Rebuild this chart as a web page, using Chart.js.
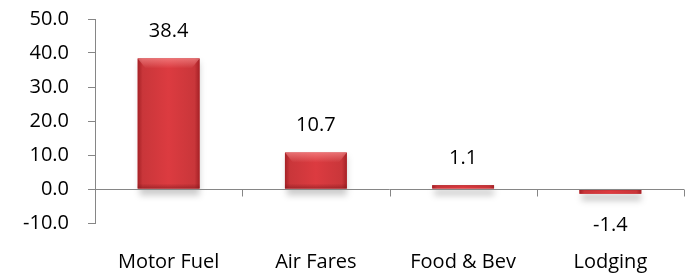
<!DOCTYPE html>
<html>
<head>
<meta charset="utf-8">
<script src="https://cdn.jsdelivr.net/npm/chart.js@4/dist/chart.umd.min.js"></script>
<style>
html,body{margin:0;padding:0;background:#fff;}
#wrap{width:692px;height:279px;position:relative;}
</style>
</head>
<body>
<div id="wrap"><canvas id="c" width="692" height="279"></canvas></div>
<script>
const categories = ["Motor Fuel", "Air Fares", "Food & Bev", "Lodging"];
const values = [38.4, 10.7, 1.1, -1.4];
const yTicks = [-10, 0, 10, 20, 30, 40, 50];

const FONT = '"Open Sans", "Liberation Sans", sans-serif';
const FSIZE = 20;
const AXIS = '#868686';

const barStyle = {
  id: 'barStyle',
  beforeDatasetsDraw(chart) {
    const ctx = chart.ctx;
    const meta = chart.getDatasetMeta(0);
    ctx.save();
    meta.data.forEach(b => {
      const top = Math.min(b.y, b.base), bot = Math.max(b.y, b.base);
      ctx.fillStyle = 'rgba(0,0,0,0.2)';
      ctx.filter = 'blur(3px)';
      ctx.fillRect(b.x - b.width/2 + 2, top + 4, b.width - 2, bot - top + 3);
    });
    ctx.restore();
  },
  afterDatasetsDraw(chart) {
    const ctx = chart.ctx;
    const meta = chart.getDatasetMeta(0);
    ctx.save();
    meta.data.forEach((b, i) => {
      const l = b.x - b.width/2, r = b.x + b.width/2;
      const top = Math.min(b.y, b.base), bot = Math.max(b.y, b.base);
      const h = bot - top;
      const g = ctx.createLinearGradient(l, 0, r, 0);
      g.addColorStop(0, '#a52126');
      g.addColorStop(0.08, '#c9363a');
      g.addColorStop(0.5, '#dc3b40');
      g.addColorStop(0.92, '#c9363a');
      g.addColorStop(1, '#a52126');
      ctx.fillStyle = g;
      ctx.fillRect(l, top, b.width, h);
      if (h > 12) {
        const tg = ctx.createLinearGradient(0, top, 0, top + 10);
        tg.addColorStop(0, 'rgba(255,160,160,0.55)');
        tg.addColorStop(1, 'rgba(255,160,160,0)');
        ctx.fillStyle = tg;
        ctx.beginPath();
        ctx.moveTo(l, top); ctx.lineTo(r, top); ctx.lineTo(r - 8, top + 10); ctx.lineTo(l + 8, top + 10); ctx.closePath();
        ctx.fill();
        const bg = ctx.createLinearGradient(0, bot - 5, 0, bot);
        bg.addColorStop(0, 'rgba(120,20,25,0)');
        bg.addColorStop(1, 'rgba(120,20,25,0.5)');
        ctx.fillStyle = bg;
        ctx.fillRect(l, bot - 5, b.width, 5);
      } else {
        ctx.fillStyle = 'rgba(150,30,35,0.35)';
        ctx.fillRect(l, top, b.width, 1);
      }
    });
    ctx.restore();
  },
  afterDraw(chart) {
    const ctx = chart.ctx;
    const xs = chart.scales.x, ys = chart.scales.y;
    const y0 = Math.round(ys.getPixelForValue(0)) + 0.5;
    ctx.save();
    ctx.strokeStyle = AXIS;
    ctx.lineWidth = 1;
    ctx.beginPath();
    ctx.moveTo(chart.chartArea.left, y0);
    ctx.lineTo(chart.chartArea.right, y0);
    const step = (xs.getPixelForValue(1) - xs.getPixelForValue(0));
    for (let i = 0; i <= categories.length; i++) {
      const x = Math.round(xs.getPixelForValue(i) - step/2) + 0.5;
      ctx.moveTo(x, y0);
      ctx.lineTo(x, y0 + 7);
    }
    ctx.stroke();
    ctx.fillStyle = '#000';
    ctx.font = FSIZE + 'px ' + FONT;
    ctx.textAlign = 'center';
    ctx.textBaseline = 'middle';
    const meta = chart.getDatasetMeta(0);
    meta.data.forEach((b, i) => {
      const v = values[i];
      const y = v >= 0 ? b.y - 27 : b.y + 32;
      ctx.fillText(v.toFixed(1), b.x, y);
    });
    ctx.restore();
  }
};

new Chart(document.getElementById('c'), {
  type: 'bar',
  data: {
    labels: categories,
    datasets: [{
      data: values,
      backgroundColor: '#d1373c',
      borderWidth: 0,
      categoryPercentage: 1,
      barPercentage: 0.42
    }]
  },
  options: {
    responsive: false,
    animation: false,
    devicePixelRatio: 1,
    layout: { padding: { top: 19, right: 8, left: 0, bottom: 0 } },
    plugins: { legend: { display: false }, tooltip: { enabled: false } },
    scales: {
      x: {
        grid: { display: false },
        border: { display: false },
        ticks: { color: '#000', font: { family: FONT, size: FSIZE }, padding: 19, maxRotation: 0 },
        afterFit(s) { s.height = 56; }
      },
      y: {
        min: -10, max: 50,
        afterBuildTicks(s) { s.ticks = yTicks.map(v => ({ value: v })); },
        grid: { drawOnChartArea: false, color: AXIS, tickLength: 7 },
        border: { display: true, color: AXIS },
        ticks: { color: '#000', font: { family: FONT, size: FSIZE }, padding: 19,
                 callback: v => Number(v).toFixed(1) },
        afterFit(s) { s.width = 95; s.paddingTop = 0; s.paddingBottom = 0; }
      }
    }
  },
  plugins: [barStyle]
});
</script>
</body>
</html>
